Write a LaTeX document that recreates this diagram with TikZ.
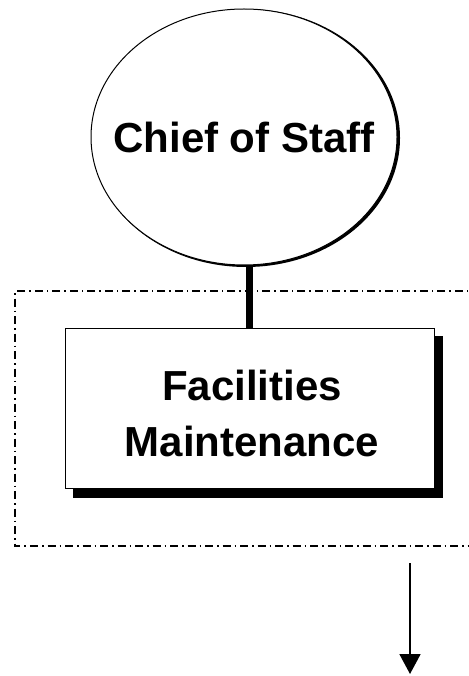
\documentclass[tikz,border=0pt]{standalone}
\usepackage{fontspec}
\setmainfont{Liberation Sans}
\usetikzlibrary{shapes.geometric,arrows.meta}
\tikzset{
  lbl/.style={font=\bfseries\fontsize{42pt}{56pt}\selectfont, align=center, inner sep=0pt},
  group/.style={line width=1.1pt, dash pattern=on 8pt off 4pt on 1.5pt off 4pt},
  link/.style={line width=7pt},
  flow/.style={line width=1.8pt, -{Triangle[length=20pt,width=21pt]}}
}
\begin{document}
\begin{tikzpicture}[x=1pt,y=-1pt]
\useasboundingbox (0,0) rectangle (468,676);
\fill[white] (0,0) rectangle (468,676);
% group frame
\draw[group] (480,291) -- (15,291) -- (15,546) -- (480,546);
% ellipse with shadow
\node[ellipse, fill=black, minimum width=308pt, minimum height=258pt, inner sep=0pt] (es) at (246,138) {};
\node[ellipse, draw, line width=1pt, fill=white, minimum width=306pt, minimum height=256pt, inner sep=0pt] (chief) at (244,137) {};
\node[lbl, anchor=base] (chieft) at (244,153) {Chief of Staff};
% box with shadow
\fill[black] (73,336) rectangle (443,498);
\node[draw, line width=1pt, fill=white, minimum width=369pt, minimum height=160pt, inner sep=0pt] (fm) at (249.5,408) {};
\draw[link] (chief.south -| fm.north) -- (fm.north);
\node[lbl] (fmt) at (252,413) {Facilities\\Maintenance};
% arrow
\coordinate (as) at (410,563);
\coordinate (ae) at (410,674);
\draw[flow] (as) -- (ae);
\end{tikzpicture}
\end{document}
